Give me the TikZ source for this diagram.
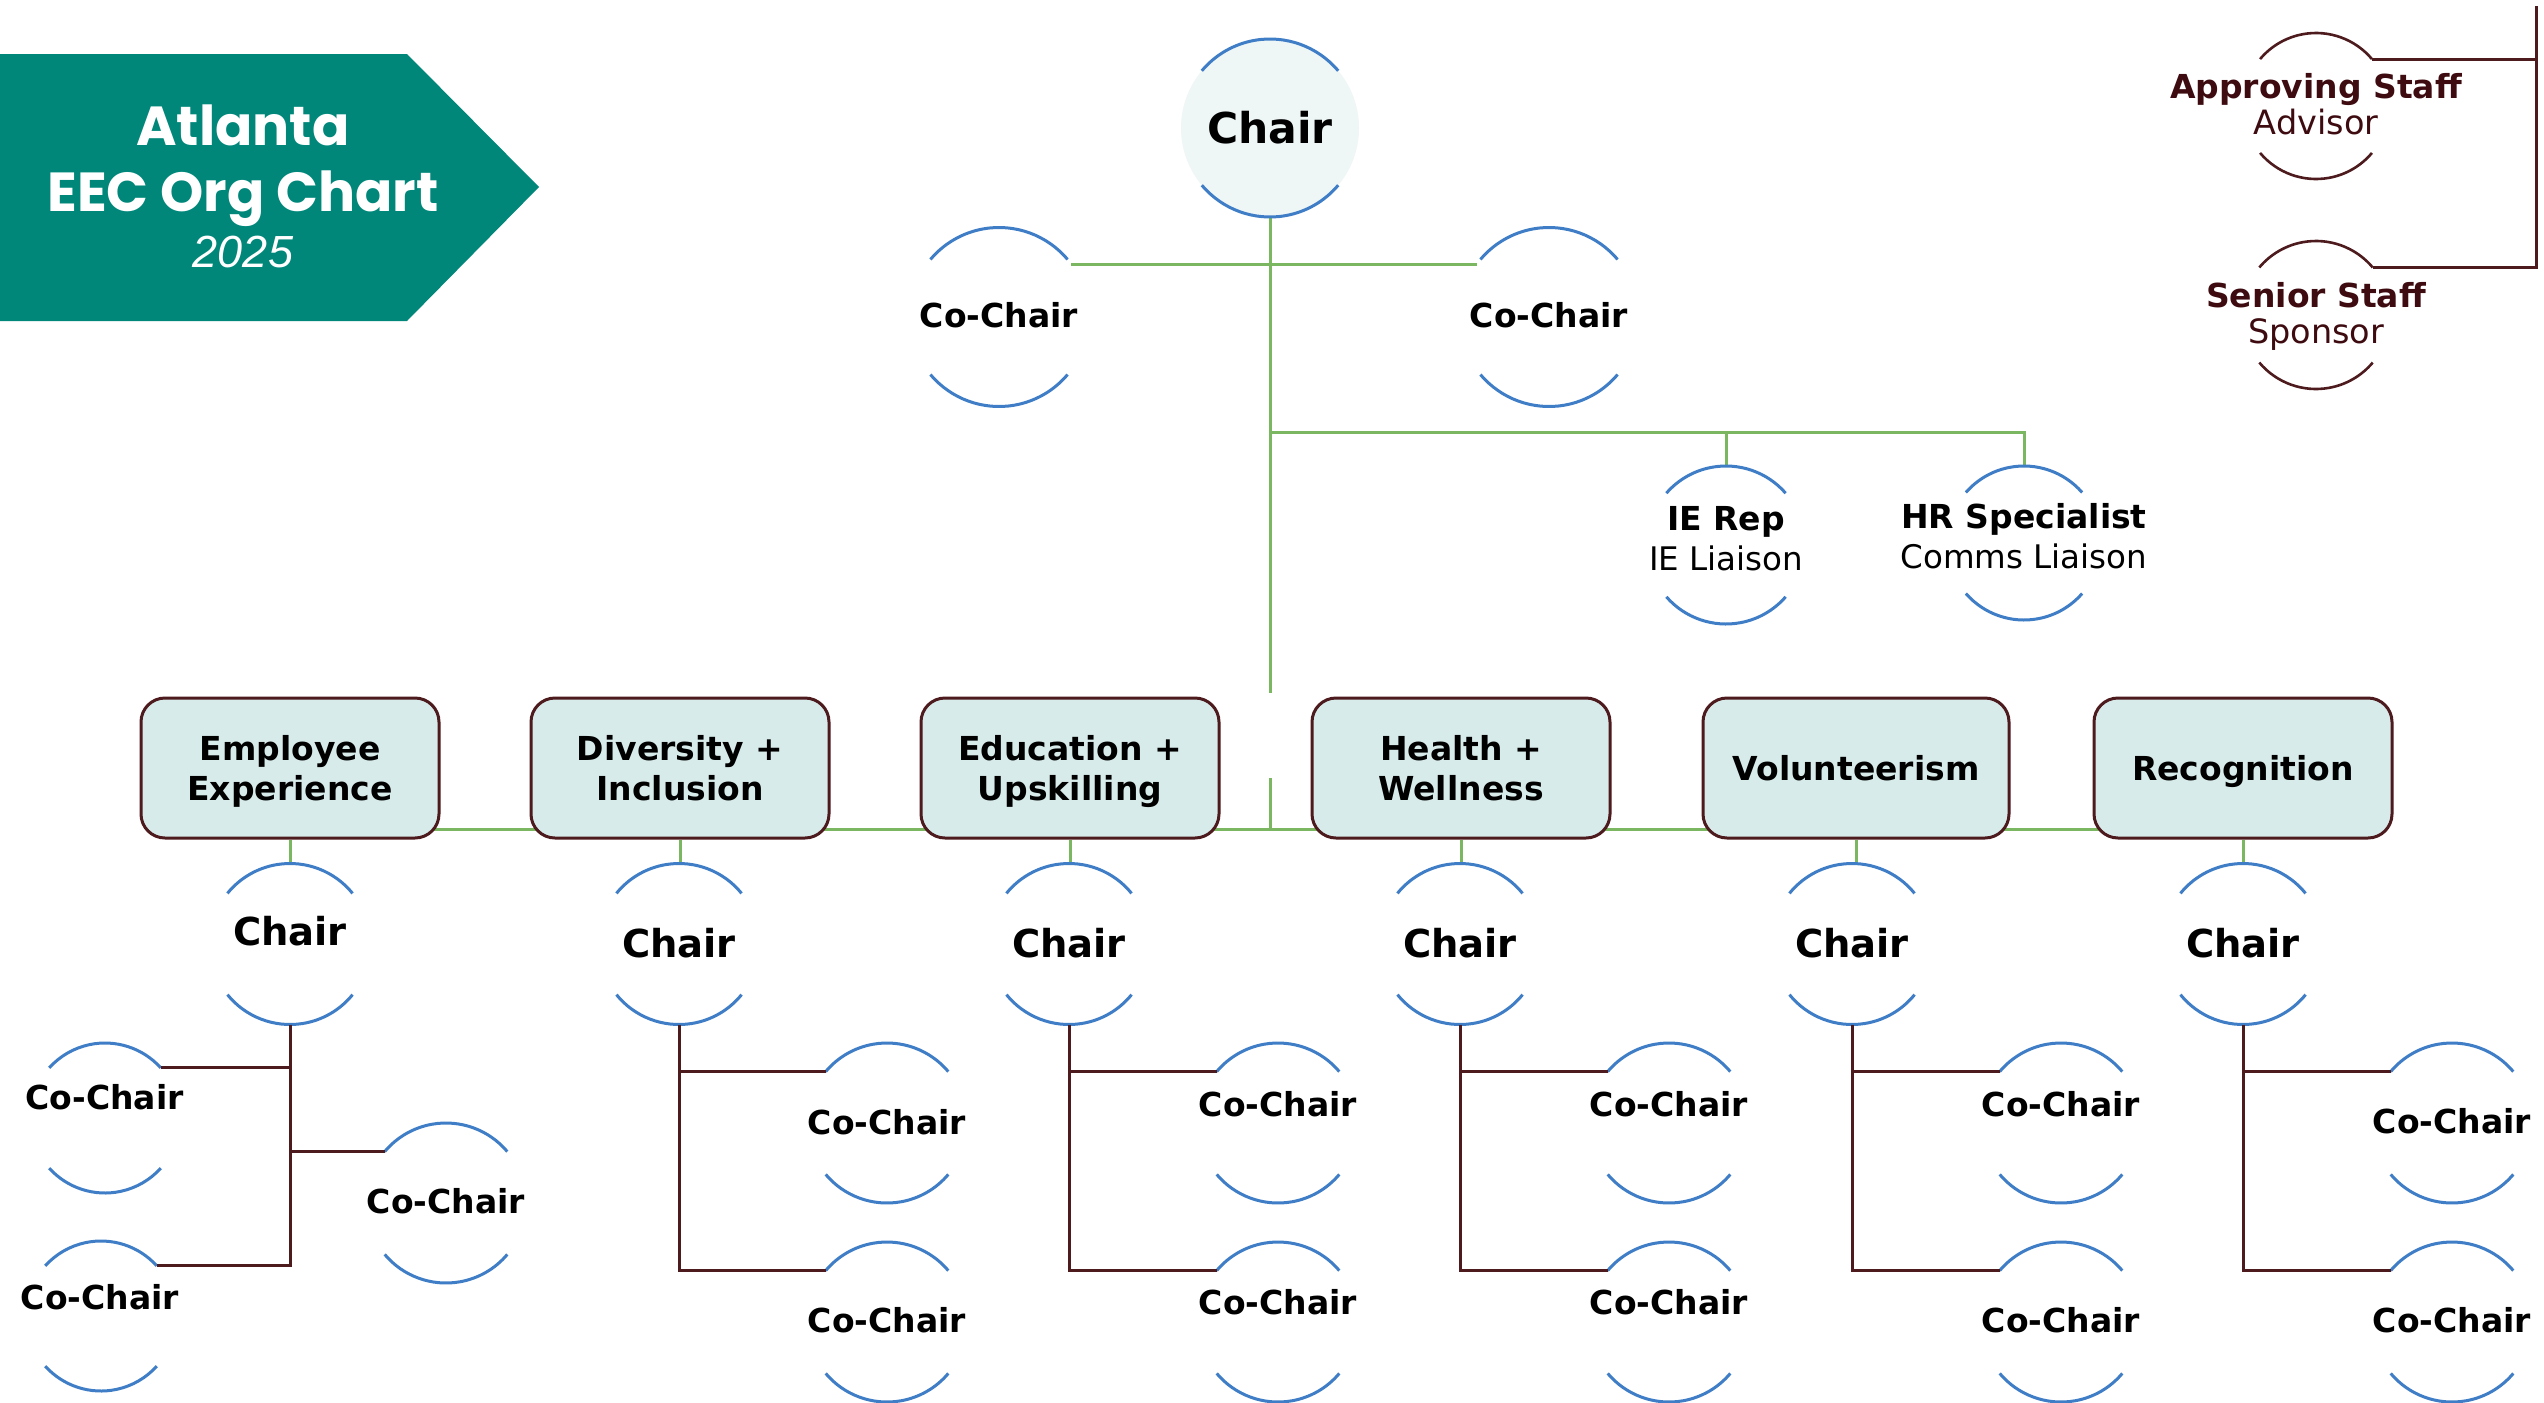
\documentclass[tikz,border=0pt]{standalone}
\usepackage{fontspec}
\setmainfont{DejaVu Sans}
\newfontfamily\poppins{Poppins}
\newfontfamily\libsans{Liberation Sans}
\usetikzlibrary{backgrounds}
\definecolor{bannerteal}{HTML}{00877A}
\definecolor{arcblue}{HTML}{3F7EC6}
\definecolor{lgreen}{HTML}{7BB661}
\definecolor{dbrown}{HTML}{4D1A1D}
\definecolor{boxfill}{HTML}{D7EBEA}
\definecolor{chairfill}{HTML}{EEF6F6}
\definecolor{maroontext}{HTML}{3D0B10}
\newcommand{\ringarcs}[4][arcline]{%
  \pgfmathtruncatemacro\rgA{180-#4}%
  \pgfmathtruncatemacro\rgB{180+#4}%
  \pgfmathtruncatemacro\rgC{360-#4}%
  \draw[#1] (#2.#4) arc[start angle=#4,end angle=\rgA,radius=#3];
  \draw[#1] (#2.\rgB) arc[start angle=\rgB,end angle=\rgC,radius=#3];}
\newcommand{\twoline}[2]{\raisebox{0pt}[64pt][0pt]{\begin{tabular}[b]{@{}c@{}}#1\\#2\end{tabular}}}
\newcommand{\oneline}[1]{\raisebox{0pt}[24pt][0pt]{#1}}
\begin{document}
\begin{tikzpicture}[x=1pt,y=1pt,
  ring/.style={circle,draw=none,inner sep=0pt,outer sep=0pt,minimum size=#1},
  arcline/.style={draw=arcblue,line width=3pt},
  marcline/.style={draw=dbrown,line width=2.6pt},
  gline/.style={draw=lgreen,line width=3pt},
  bline/.style={draw=dbrown,line width=3pt},
  dept/.style={rounded corners=24pt,draw=dbrown,line width=3pt,fill=boxfill,
    minimum width=298pt,minimum height=140pt,inner sep=0pt,
    font=\fontsize{33}{40}\selectfont\bfseries},
  lbl/.style={inner sep=0pt,outer sep=0pt,anchor=base},
  cofont/.style={font=\fontsize{33}{40}\selectfont\bfseries},
  chfont/.style={font=\fontsize{38.5}{44}\selectfont\bfseries},
  subbold/.style={font=\fontsize{33}{38}\selectfont\bfseries},
  subreg/.style={font=\fontsize{32.5}{36}\selectfont},
  mbold/.style={font=\fontsize{33}{36}\selectfont\bfseries,text=maroontext},
  mreg/.style={font=\fontsize{33.5}{36}\selectfont,text=maroontext},
]
\useasboundingbox (0,0) rectangle (2544,-1403);

% banner
\fill[bannerteal] (0,-54) -- (407,-54) -- (539,-187) -- (407,-321) -- (0,-321) -- cycle;
\node[lbl,text=white,font=\poppins\bfseries\fontsize{55}{60}\selectfont] (ttl1) at (243,-145) {Atlanta};
\node[lbl,text=white,font=\poppins\bfseries\fontsize{55}{60}\selectfont] (ttl2) at (243,-211) {EEC Org Chart};
\node[lbl,text=white,font=\libsans\itshape\fontsize{45}{50}\selectfont] (ttl3) at (243,-267) {2025};

% top chair
\node[ring=178pt,fill=chairfill] (tc) at (1270,-128) {};
\ringarcs{tc}{89pt}{40}
\node[lbl,font=\fontsize{42.5}{48}\selectfont\bfseries] (tct) at (1270,-143) {Chair};

% top co-chairs
\node[ring=179pt] (cc1) at (999,-317) {};
\node[ring=179pt] (cc2) at (1549,-317) {};
\ringarcs{cc1}{89.5pt}{40}
\ringarcs{cc2}{89.5pt}{40}
\node[lbl,cofont] (cc1t) at (999,-327) {Co-Chair};
\node[lbl,cofont] (cc2t) at (1549,-327) {Co-Chair};

% IE rep and HR
\node[ring=158pt] (ie) at (1726,-545) {};
\node[ring=154pt] (hr) at (2024,-543) {};
\ringarcs{ie}{79pt}{41}
\ringarcs{hr}{77pt}{41}
\node[lbl,subbold] (iet1) at (1726,-530) {IE Rep};
\node[lbl,subreg] (iet2) at (1726,-570) {IE Liaison};
\node[lbl,subbold] (hrt1) at (2024,-528) {HR Specialist};
\node[lbl,subreg] (hrt2) at (2024,-568) {Comms Liaison};

% advisor / sponsor
\node[ring=146pt] (ap) at (2316,-106) {};
\node[ring=148pt] (ss) at (2316,-315) {};
\ringarcs[marcline]{ap}{73pt}{40}
\ringarcs[marcline]{ss}{74pt}{40}
\node[lbl,mbold] (apt1) at (2316,-98) {Approving Staff};
\node[lbl,mreg] (apt2) at (2316,-134) {Advisor};
\node[lbl,mbold] (sst1) at (2316,-307) {Senior Staff};
\node[lbl,mreg] (sst2) at (2316,-343) {Sponsor};
\coordinate (brtop) at (2536,-6);

% department boxes
\node[dept] (d1) at (290,-768) {\twoline{Employee}{Experience}};
\node[dept] (d2) at (680,-768) {\twoline{Diversity +}{Inclusion}};
\node[dept] (d3) at (1070,-768) {\twoline{Education +}{Upskilling}};
\node[dept] (d4) at (1461,-768) {\twoline{Health +}{Wellness}};
\node[dept,minimum width=306pt] (d5) at (1856,-768) {\oneline{Volunteerism}};
\node[dept] (d6) at (2243,-768) {\oneline{Recognition}};
\coordinate (bus) at (1270,-829);
\coordinate (gapA) at (1270,-693);
\coordinate (gapB) at (1270,-778);
\coordinate (bus2) at (1270,-432);

% department chairs
\foreach \i/\x/\ty in {1/290/945,2/679/957,3/1069/957,4/1460/957,5/1852/957,6/2243/957}{
  \node[ring=161pt] (h\i) at (\x,-944) {};
  \ringarcs{h\i}{80.5pt}{39}
  \node[lbl,chfont] (h\i t) at (\x,-\ty) {Chair};
}

% co-chairs for departments 2-6
\foreach \i/\x/\ua/\la in {2/887/1134/1332,3/1278/1116/1314,4/1669/1116/1314,5/2061/1116/1332,6/2452/1133/1332}{
  \node[ring=160pt] (u\i) at (\x,-1123) {};
  \node[ring=160pt] (l\i) at (\x,-1322) {};
  \ringarcs{u\i}{80pt}{40}
  \ringarcs{l\i}{80pt}{40}
  \node[lbl,cofont] (u\i t) at (\x,-\ua) {Co-Chair};
  \node[lbl,cofont] (l\i t) at (\x,-\la) {Co-Chair};
  \draw[bline] (h\i.south) |- (l\i.140);
  \draw[bline] (u\i.140) -- (u\i.140 -| h\i.south);
}

% co-chairs for department 1
\node[ring=150pt] (c1a) at (105,-1118) {};
\node[ring=160pt] (c1b) at (446,-1203) {};
\node[ring=150pt] (c1c) at (101,-1316) {};
\ringarcs{c1a}{75pt}{42}
\ringarcs{c1b}{80pt}{40}
\ringarcs{c1c}{75pt}{42}
\node[lbl,cofont] (c1at) at (104.5,-1109) {Co-Chair};
\node[lbl,cofont] (c1bt) at (446,-1213) {Co-Chair};
\node[lbl,cofont] (c1ct) at (100,-1309) {Co-Chair};
\draw[bline] (h1.south) |- (c1c.42);
\draw[bline] (c1a.42) -- (c1a.42 -| h1.south);
\draw[bline] (c1b.140) -- (c1b.140 -| h1.south);

% connectors behind
\begin{scope}[on background layer]
  \fill[white] (0,0) rectangle (2544,-1403);
  \draw[gline] (tc.south) -- (gapA);
  \draw[gline] (cc1.36) -- (cc2.144);
  \draw[gline] (bus2) -| (hr.north);
  \draw[gline] (ie.north) -- (ie.north |- bus2);
  \draw[gline] (gapB) -- (bus);
  \draw[gline] (d1.center |- bus) -- (d6.center |- bus);
  \foreach \i in {1,...,6}{\draw[gline] (d\i.south) -- (d\i.south |- h\i.north);}
  \draw[bline] (brtop) |- (ss.40);
  \draw[bline] (ap.40) -- (ap.40 -| brtop);
\end{scope}
\end{tikzpicture}
\end{document}
